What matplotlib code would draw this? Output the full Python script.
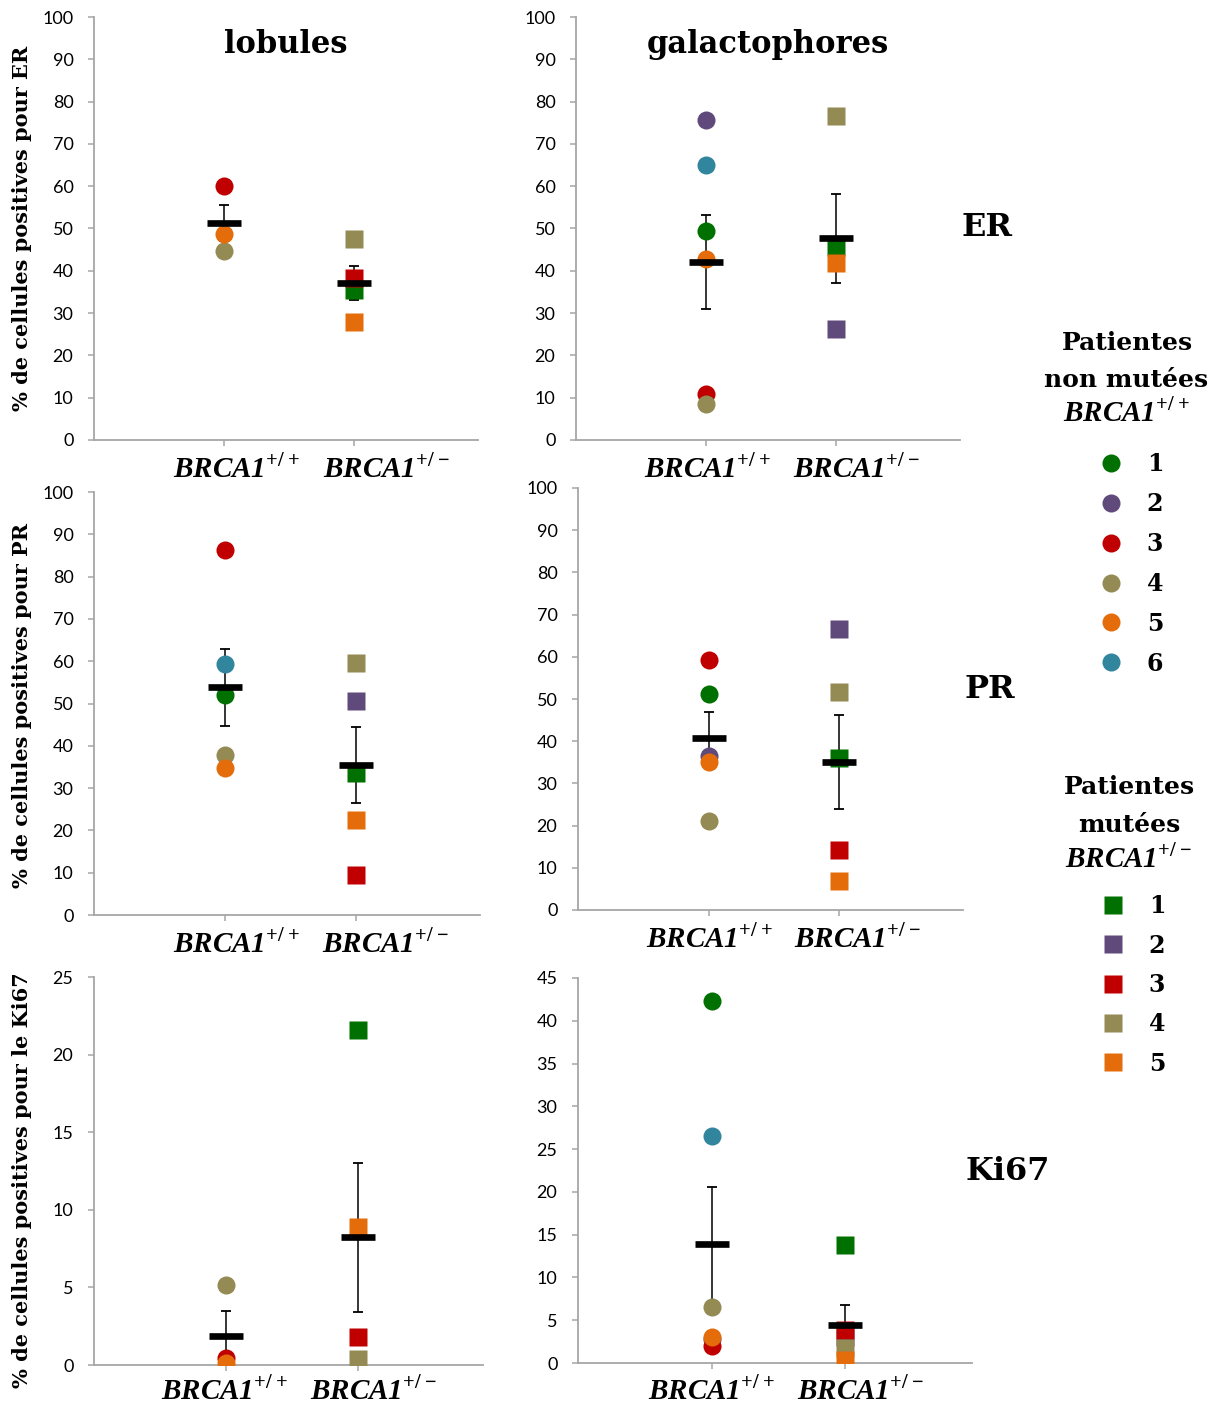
import numpy as np
import matplotlib.pyplot as plt
from matplotlib.lines import Line2D
from matplotlib.font_manager import FontProperties
from matplotlib.transforms import ScaledTranslation

plt.rcParams["mathtext.fontset"] = "custom"
plt.rcParams["mathtext.bfit"] = "Liberation Serif:bold:italic"
plt.rcParams["mathtext.bf"] = "Liberation Serif:bold"
plt.rcParams["mathtext.rm"] = "Liberation Serif:bold"

NAN = np.nan
W, H = 1216, 1405

# patient colours (1..6)
PATIENT_COLORS = ["#007000", "#604A7B", "#C00000", "#948A54", "#E46C0A", "#31859C"]
GROUP_LABELS = [r"$\mathbfit{BRCA1}^{\mathbf{+/+}}$", r"$\mathbfit{BRCA1}^{\mathbf{+/-}}$"]

# --- ER, lobules
er_lob_nm = [NAN, NAN, 60.0, 44.7, 48.7, NAN]
er_lob_m = [35.5, NAN, 38.2, 47.5, 27.9]
er_lob_mean = [51.3, 37.2]
er_lob_sem = [4.2, 4.0]

# --- ER, galactophores
er_gal_nm = [49.4, 75.7, 10.9, 8.5, 42.8, 65.0]
er_gal_m = [45.6, 26.2, NAN, 76.6, 41.8]
er_gal_mean = [42.1, 47.7]
er_gal_sem = [11.1, 10.5]

# --- PR, lobules
pr_lob_nm = [51.9, NAN, 86.3, 37.8, 34.7, 59.3]
pr_lob_m = [33.5, 50.5, 9.4, 59.6, 22.5]
pr_lob_mean = [53.8, 35.4]
pr_lob_sem = [9.1, 9.0]

# --- PR, galactophores
pr_gal_nm = [51.3, 36.5, 59.2, 21.0, 35.1, NAN]
pr_gal_m = [36.1, 66.6, 14.1, 51.7, 6.9]
pr_gal_mean = [40.7, 35.0]
pr_gal_sem = [6.3, 11.1]

# --- Ki67, lobules
ki_lob_nm = [NAN, NAN, 0.43, 5.13, 0.1, NAN]
ki_lob_m = [21.6, NAN, 1.82, 0.37, 8.9]
ki_lob_mean = [1.85, 8.23]
ki_lob_sem = [1.6, 4.8]

# --- Ki67, galactophores
ki_gal_nm = [42.3, 2.77, 1.99, 6.5, 3.0, 26.55]
ki_gal_m = [13.8, 3.0, 3.86, 1.8, 0.35]
ki_gal_mean = [13.87, 4.4]
ki_gal_sem = [6.7, 2.4]

GRAY = "#a6a6a6"
SERIF_B = dict(family="DejaVu Serif", weight="bold")


def px_axes(fig, x0, y0, x1, y1):
    return fig.add_axes([x0 / W, 1 - y1 / H, (x1 - x0) / W, (y1 - y0) / H])


def draw_panel(ax, nm, m, mean, sem, ymax, ystep, label_dx, label_dy=13):
    ax.errorbar([1, 2], mean, yerr=sem, fmt="none", ecolor="black",
                elinewidth=1.1, capsize=3.6, capthick=1.3, zorder=2)
    for i, v in enumerate(nm):
        if not np.isnan(v):
            ax.plot(1, v, "o", ms=13, color=PATIENT_COLORS[i], mec="none", zorder=3)
    for i, v in enumerate(m):
        if not np.isnan(v):
            ax.plot(2, v, "s", ms=13, color=PATIENT_COLORS[i], mec="none", zorder=3)
    ax.plot([1, 2], mean, "_", ms=24.5, mew=4.8, color="black", linestyle="none", zorder=4)

    ax.set_xlim(0, 2.95)
    ax.set_ylim(0, ymax)
    ax.set_yticks(np.arange(0, ymax + 0.1, ystep))
    ax.set_xticks([1, 2])
    ax.set_xticklabels(["", ""])
    # group labels sit slightly right of the ticks, as in the original layout
    for x, lab, dx in zip([1, 2], GROUP_LABELS, label_dx):
        tr = ax.get_xaxis_transform() + ScaledTranslation(dx / 100, -label_dy / 100,
                                                          ax.figure.dpi_scale_trans)
        ax.text(x, 0, lab, transform=tr, ha="center", va="top", fontsize=21)
    for lab in ax.get_yticklabels():
        lab.set_fontfamily("Lato")
    ax.tick_params(axis="y", direction="out", length=4.3, width=1.1, color=GRAY,
                   pad=10.5, labelsize=13)
    ax.tick_params(axis="x", direction="out", length=4.3, width=1.1, color=GRAY)
    for side in ["top", "right"]:
        ax.spines[side].set_visible(False)
    for side in ["left", "bottom"]:
        ax.spines[side].set_color(GRAY)
        ax.spines[side].set_linewidth(1.3)


fig = plt.figure(figsize=(W / 100, H / 100), dpi=100)

ax_tl = px_axes(fig, 94, 17, 478, 440)
ax_tr = px_axes(fig, 576, 17, 960, 440)
ax_ml = px_axes(fig, 94, 492, 480, 915)
ax_mr = px_axes(fig, 578, 488, 963, 910)
ax_bl = px_axes(fig, 94, 977, 483, 1365)
ax_br = px_axes(fig, 578, 978, 972, 1363)

draw_panel(ax_tl, er_lob_nm, er_lob_m, er_lob_mean, er_lob_sem, 100, 10, (12, 32))
draw_panel(ax_tr, er_gal_nm, er_gal_m, er_gal_mean, er_gal_sem, 100, 10, (1, 20))
draw_panel(ax_ml, pr_lob_nm, pr_lob_m, pr_lob_mean, pr_lob_sem, 100, 10, (11, 30))
draw_panel(ax_mr, pr_gal_nm, pr_gal_m, pr_gal_mean, pr_gal_sem, 100, 10, (1, 18))
draw_panel(ax_bl, ki_lob_nm, ki_lob_m, ki_lob_mean, ki_lob_sem, 25, 5, (-2, 16), 10)
draw_panel(ax_br, ki_gal_nm, ki_gal_m, ki_gal_mean, ki_gal_sem, 45, 5, (0, 15), 12)

ax_tl.text(0.5, 0.934, "lobules", transform=ax_tl.transAxes, ha="center", va="center",
           fontsize=22, **SERIF_B)
ax_tr.text(0.5, 0.934, "galactophores", transform=ax_tr.transAxes, ha="center", va="center",
           fontsize=22, **SERIF_B)

# y labels
for y, txt in [(228, "% de cellules positives pour ER"),
               (705, "% de cellules positives pour PR"),
               (1180, "% de cellules positives pour le Ki67")]:
    fig.text(22 / W, 1 - y / H, txt, rotation=90, ha="center", va="center",
             fontsize=15, **SERIF_B)

# marker row labels
for x, y, txt in [(987, 227, "ER"), (990, 690, "PR"), (1008, 1172, "Ki67")]:
    fig.text(x / W, 1 - y / H, txt, ha="center", va="center", fontsize=23, **SERIF_B)

# legend titles
for x, y, txt in [(1127, 343, "Patientes"), (1126, 380, "non mutées"),
                  (1126, 412, GROUP_LABELS[0]),
                  (1129, 787, "Patientes"), (1129, 825, "mutées"),
                  (1128, 858, GROUP_LABELS[1])]:
    size = 21 if txt.startswith("$") else 18
    fig.text(x / W, 1 - y / H, txt, ha="center", va="center", fontsize=size, **SERIF_B)

leg_font = FontProperties(family="DejaVu Serif", weight="bold", size=17)
nm_handles = [Line2D([], [], marker="o", ls="none", ms=13, color=c, mec="none")
              for c in PATIENT_COLORS]
m_handles = [Line2D([], [], marker="s", ls="none", ms=13, color=c, mec="none")
             for c in PATIENT_COLORS[:5]]
fig.legend(nm_handles, [str(i + 1) for i in range(6)], loc="center",
           bbox_to_anchor=(1131 / W, 1 - 564 / H), frameon=False, prop=leg_font,
           handlelength=1.0, handletextpad=1.03, labelspacing=0.67,
           borderpad=0, borderaxespad=0)
fig.legend(m_handles, [str(i + 1) for i in range(5)], loc="center",
           bbox_to_anchor=(1133 / W, 1 - 985 / H), frameon=False, prop=leg_font,
           handlelength=1.0, handletextpad=1.03, labelspacing=0.65,
           borderpad=0, borderaxespad=0)

fig.savefig("out.png", dpi=100)
